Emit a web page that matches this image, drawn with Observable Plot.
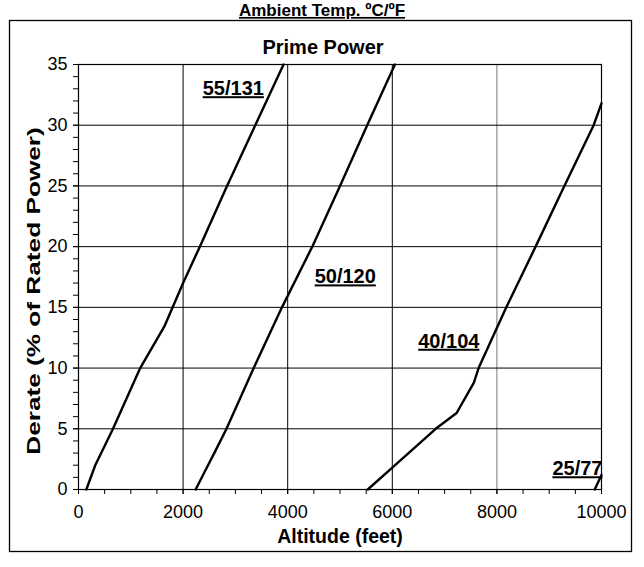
<!DOCTYPE html>
<html>
<head>
<meta charset="utf-8">
<script src="https://cdn.jsdelivr.net/npm/d3@7"></script>
<script src="https://cdn.jsdelivr.net/npm/@observablehq/plot@0.6"></script>
<style>
  html, body { margin: 0; padding: 0; background: #fff; }
</style>
</head>
<body>
<div id="chart"></div>
<script>
// Series: altitude (feet) vs derate (% of rated power)
const alt55 = [150, 320, 660, 1180, 1650, 2000, 2320, 2840, 3380, 3920];
const der55 = [0, 2, 5, 10, 13.5, 17, 20, 25, 30, 35];

const alt50 = [2240, 2430, 2620, 2830, 3350, 3890, 4470, 5000, 5520, 6050];
const der50 = [0, 1.6, 3.2, 5, 10, 15, 20, 25, 30, 35];

const alt40 = [5530, 6000, 6830, 7230, 7560, 7650, 8180, 8740, 9290, 9850, 10000];
const der40 = [0, 1.8, 5, 6.3, 8.8, 10, 15, 20, 25, 30, 31.8];

const alt25 = [9870, 10000];
const der25 = [0, 1.2];

const seriesNames = ["55/131", "50/120", "40/104", "25/77"];
const seriesAlt = [alt55, alt50, alt40, alt25];
const seriesDer = [der55, der50, der40, der25];

// Curve label anchors (data coordinates)
const labelAlt = [2960, 5100, 7080, 9540];
const labelDer = [33.0, 17.5, 12.2, 1.7];

const xTicks = [0, 2000, 4000, 6000, 8000, 10000];
const yTicks = [0, 5, 10, 15, 20, 25, 30, 35];
const xGrid = [2000, 4000, 6000, 8000];
const yGrid = [5, 10, 15, 20, 25, 30];

const titleText = "Ambient Temp. ºC/ºF";
const subtitleText = "Prime Power";
const xLabel = "Altitude (feet)";
const yLabel = "Derate (% of Rated Power)";

const rows = seriesNames.flatMap((name, i) =>
  seriesAlt[i].map((a, j) => ({series: name, alt: a, der: seriesDer[i][j]}))
);
const labels = seriesNames.map((name, i) => ({name, alt: labelAlt[i], der: labelDer[i]}));

const font = "Liberation Sans, Arial, Helvetica, sans-serif";

const chart = Plot.plot({
  width: 644,
  height: 567,
  marginLeft: 78,
  marginRight: 43,
  marginTop: 64,
  marginBottom: 78,
  x: {domain: [0, 10000]},
  y: {domain: [0, 35]},
  style: {fontFamily: font, fontSize: "18px", color: "#000", background: "#fff", overflow: "visible"},
  marks: [
    Plot.frame({stroke: "#000", strokeWidth: 1.3, insetLeft: -69, insetTop: -44, insetRight: -30, insetBottom: -62}),
    Plot.ruleX(xGrid, {stroke: d => d === 8000 ? "#777" : "#000", strokeWidth: 1}),
    Plot.ruleY(yGrid, {stroke: "#000", strokeWidth: 1}),
    Plot.frame({stroke: "#000", strokeWidth: 1.2}),
    Plot.axisX({ticks: d3.range(0, 10001, 500), tickSize: 5, tickFormat: () => "", label: null, stroke: "#000"}),
    Plot.axisX({ticks: xTicks, tickSize: 5, tickPadding: 11, tickFormat: d => String(d), label: null, fontSize: 18, stroke: "#000"}),
    Plot.axisY({ticks: d3.range(0, 36, 1), tickSize: 5, tickFormat: () => "", label: null, stroke: "#000"}),
    Plot.axisY({ticks: yTicks, tickSize: 5, tickPadding: 6, tickFormat: d => String(d), label: null, fontSize: 18, stroke: "#000"}),
    Plot.line(rows, {x: "alt", y: "der", z: "series", stroke: "#000", strokeWidth: 2.4, strokeLinejoin: "round"}),
    Plot.text(labels, {x: "alt", y: "der", text: "name", fontSize: 20, fontWeight: "bold", fill: "#000", lineAnchor: "middle"}),
    Plot.text([titleText], {frameAnchor: "top", dx: -18, dy: -54, fontSize: 17, fontWeight: "bold", fill: "#000", lineAnchor: "middle"}),
    Plot.text([subtitleText], {frameAnchor: "top", dx: -17, dy: -17, fontSize: 20, fontWeight: "bold", fill: "#000", lineAnchor: "middle"}),
    Plot.text([xLabel], {frameAnchor: "bottom", dy: 47, fontSize: 19.5, fontWeight: "bold", fill: "#000", lineAnchor: "middle"}),
    Plot.text([yLabel], {frameAnchor: "left", dx: -45, dy: 14, rotate: -90, textAnchor: "middle", fontSize: 19, fontWeight: "bold", fill: "#000", lineAnchor: "middle"})
  ]
});

document.getElementById("chart").appendChild(chart);

const underlined = new Set([...seriesNames, titleText]);
d3.select(chart).selectAll("text").each(function() {
  const t = this.textContent;
  if (underlined.has(t)) {
    d3.select(this).attr("text-decoration", "underline");
  }
  if (t === yLabel) {
    const tr = this.getAttribute("transform") || "";
    this.setAttribute("transform", tr + " scale(1.38,1)");
  }
});
</script>
</body>
</html>
